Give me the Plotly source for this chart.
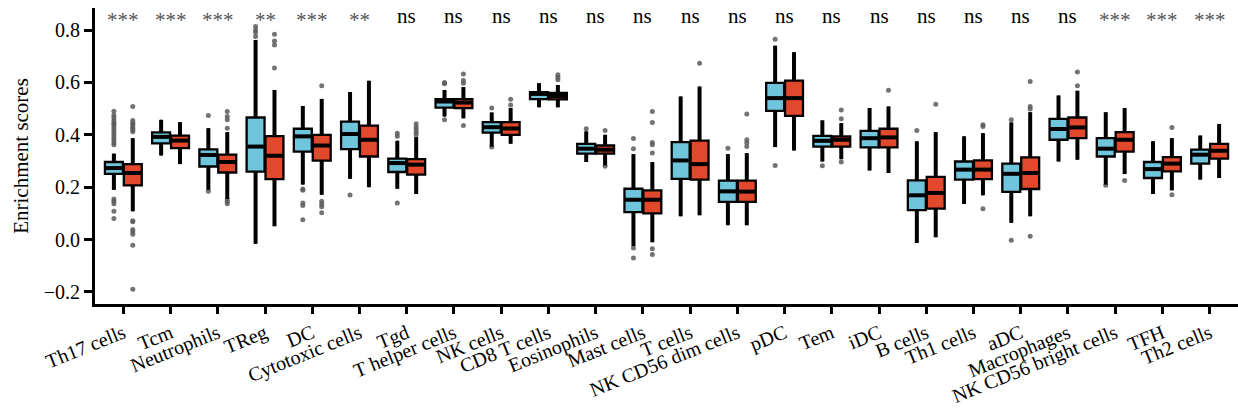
import plotly.graph_objects as go

categories = ["Th17 cells", "Tcm", "Neutrophils", "TReg", "DC", "Cytotoxic cells", "Tgd",
              "T helper cells", "NK cells", "CD8 T cells", "Eosinophils", "Mast cells", "T cells",
              "NK CD56 dim cells", "pDC", "Tem", "iDC", "B cells", "Th1 cells", "aDC",
              "Macrophages", "NK CD56 bright cells", "TFH", "Th2 cells"]
significance = ["***", "***", "***", "**", "***", "**", "ns", "ns", "ns", "ns", "ns", "ns", "ns",
                "ns", "ns", "ns", "ns", "ns", "ns", "ns", "ns", "***", "***", "***"]

# group 1 (blue)
blue_lower = [0.190, 0.321, 0.190, -0.016, 0.210, 0.232, 0.194, 0.470, 0.355, 0.505, 0.296, -0.025,
              0.089, 0.055, 0.353, 0.298, 0.264, -0.013, 0.136, 0.064, 0.298, 0.210, 0.174, 0.229]
blue_q1 = [0.251, 0.367, 0.279, 0.259, 0.336, 0.345, 0.258, 0.504, 0.408, 0.536, 0.328, 0.105,
           0.232, 0.144, 0.491, 0.355, 0.352, 0.112, 0.229, 0.182, 0.381, 0.317, 0.235, 0.290]
blue_median = [0.273, 0.392, 0.323, 0.355, 0.394, 0.403, 0.292, 0.527, 0.429, 0.556, 0.347, 0.152,
               0.302, 0.184, 0.540, 0.377, 0.387, 0.169, 0.267, 0.251, 0.422, 0.347, 0.269, 0.324]
blue_q3 = [0.296, 0.409, 0.344, 0.466, 0.423, 0.450, 0.309, 0.536, 0.448, 0.563, 0.365, 0.194,
           0.372, 0.225, 0.598, 0.396, 0.415, 0.226, 0.298, 0.290, 0.461, 0.387, 0.296, 0.343]
blue_upper = [0.328, 0.457, 0.425, 0.762, 0.510, 0.563, 0.377, 0.571, 0.485, 0.597, 0.413, 0.326,
              0.546, 0.326, 0.740, 0.455, 0.502, 0.375, 0.394, 0.447, 0.550, 0.486, 0.375, 0.397]
blue_outliers = [
    [0.490, 0.475, 0.465, 0.455, 0.445, 0.440, 0.430, 0.420, 0.410, 0.400, 0.390, 0.380, 0.370, 0.362,
     0.155, 0.146, 0.137, 0.108, 0.080],
    [], [0.474, 0.184], [0.813, 0.800, 0.790, 0.775], [0.193, 0.188, 0.140, 0.130, 0.076],
    [0.170], [0.406, 0.394, 0.140], [0.600, 0.595, 0.457], [0.502, 0.353], [], [0.423],
    [0.386, 0.347, -0.032, -0.070], [], [0.349], [0.765, 0.283], [0.282], [], [0.416], [],
    [0.457, -0.003], [], [0.207], [], []]

# group 2 (red)
red_lower = [0.108, 0.288, 0.155, 0.051, 0.171, 0.200, 0.174, 0.463, 0.366, 0.505, 0.283, -0.010,
             0.093, 0.055, 0.340, 0.307, 0.254, 0.009, 0.169, 0.089, 0.305, 0.250, 0.188, 0.235]
red_q1 = [0.207, 0.349, 0.256, 0.231, 0.301, 0.317, 0.248, 0.502, 0.400, 0.535, 0.328, 0.100,
          0.229, 0.144, 0.472, 0.355, 0.352, 0.118, 0.231, 0.193, 0.387, 0.336, 0.260, 0.309]
red_median = [0.254, 0.378, 0.296, 0.320, 0.359, 0.381, 0.286, 0.523, 0.424, 0.548, 0.343, 0.152,
              0.288, 0.183, 0.540, 0.381, 0.390, 0.178, 0.267, 0.254, 0.428, 0.381, 0.290, 0.339]
red_q3 = [0.288, 0.397, 0.324, 0.395, 0.400, 0.435, 0.307, 0.536, 0.448, 0.560, 0.359, 0.188,
          0.378, 0.225, 0.607, 0.394, 0.423, 0.239, 0.302, 0.314, 0.466, 0.410, 0.315, 0.365]
red_upper = [0.387, 0.448, 0.410, 0.571, 0.537, 0.606, 0.391, 0.582, 0.502, 0.590, 0.400, 0.296,
             0.584, 0.330, 0.715, 0.444, 0.508, 0.410, 0.406, 0.486, 0.568, 0.502, 0.387, 0.441]
red_outliers = [
    [0.508, 0.455, 0.445, 0.440, 0.432, 0.425, 0.418, 0.412, 0.072, 0.068, 0.038, 0.030, 0.020,
     -0.022, -0.190],
    [], [0.489, 0.470, 0.457, 0.425, 0.152, 0.145, 0.137], [0.784, 0.758, 0.743, 0.655],
    [0.587, 0.146, 0.135, 0.125, 0.102], [], [0.442, 0.430, 0.420, 0.410, 0.400],
    [0.632, 0.607, 0.597, 0.435], [0.536, 0.514], [0.629, 0.620, 0.610], [0.416, 0.280],
    [0.489, 0.447, 0.371, 0.362, 0.330, -0.035, -0.057], [0.673],
    [0.479, 0.381, 0.370, 0.355], [], [0.495, 0.461, 0.296], [0.570], [0.517],
    [0.438, 0.432, 0.118], [0.603, 0.508, 0.498, 0.013], [0.640, 0.587], [0.225],
    [0.428, 0.171], []]

BLUE = "rgb(111,197,219)"
RED = "rgb(226,72,43)"
OFFSET = 0.2
BOXW = 0.38
FONT = "Liberation Serif, Times New Roman, serif"

fig = go.Figure()
idx = list(range(len(categories)))

for color, off, lo, q1, med, q3, up, outs in [
        (BLUE, -OFFSET, blue_lower, blue_q1, blue_median, blue_q3, blue_upper, blue_outliers),
        (RED, OFFSET, red_lower, red_q1, red_median, red_q3, red_upper, red_outliers)]:
    xs = [i + off for i in idx]
    # outlier points
    ox, oy = [], []
    for i, vals in zip(idx, outs):
        for v in vals:
            ox.append(i + off)
            oy.append(v)
    fig.add_trace(go.Scatter(x=ox, y=oy, mode="markers",
                             marker=dict(color="rgba(90,90,90,0.85)", size=5,
                                         line=dict(width=0)),
                             showlegend=False, hoverinfo="skip"))
    # thick whiskers
    wx, wy = [], []
    for x, a, b, c, d in zip(xs, lo, q1, q3, up):
        wx += [x, x, None, x, x, None]
        wy += [a, b, None, c, d, None]
    fig.add_trace(go.Scatter(x=wx, y=wy, mode="lines", line=dict(color="black", width=4),
                             showlegend=False, hoverinfo="skip"))
    # boxes
    fig.add_trace(go.Box(x=xs, q1=q1, median=med, q3=q3, lowerfence=lo, upperfence=up,
                         width=BOXW, whiskerwidth=0, fillcolor=color,
                         line=dict(color="black", width=2.3), boxpoints=False,
                         showlegend=False))
    # thick medians
    mx, my = [], []
    for x, m in zip(xs, med):
        mx += [x - BOXW / 2 + 0.02, x + BOXW / 2 - 0.02, None]
        my += [m, m, None]
    fig.add_trace(go.Scatter(x=mx, y=my, mode="lines", line=dict(color="black", width=4),
                             showlegend=False, hoverinfo="skip"))

for i, s in zip(idx, significance):
    is_ns = s == "ns"
    fig.add_annotation(x=i, y=0.853, xref="x", yref="y", text=s, showarrow=False,
                       font=dict(family=FONT, size=21,
                                 color="black" if is_ns else "#555555"),
                       yanchor="middle", yshift=0 if is_ns else -4)

fig.update_layout(
    width=1238, height=413,
    margin=dict(l=95, r=0, t=8, b=109),
    plot_bgcolor="white", paper_bgcolor="white",
    font=dict(family=FONT, color="black"),
    showlegend=False,
)
fig.update_xaxes(range=[-0.6, 23.6], tickvals=idx, ticktext=categories, tickangle=-22,
                 showgrid=False, zeroline=False, showline=True, linecolor="black", linewidth=3,
                 ticks="outside", ticklen=7, tickwidth=2.5, tickcolor="black",
                 tickfont=dict(family=FONT, size=20, color="black"))
fig.update_yaxes(range=[-0.246, 0.884], tickvals=[-0.2, 0.0, 0.2, 0.4, 0.6, 0.8],
                 ticktext=["\u22120.2", "0.0", "0.2", "0.4", "0.6", "0.8"],
                 showgrid=False, zeroline=False, showline=True, linecolor="black", linewidth=3,
                 ticks="outside", ticklen=8, tickwidth=2.5, tickcolor="black",
                 tickfont=dict(family=FONT, size=20, color="black"),
                 title=dict(text="Enrichment scores", font=dict(family=FONT, size=21, color="black"),
                            standoff=10))

fig.write_html("out.html")
